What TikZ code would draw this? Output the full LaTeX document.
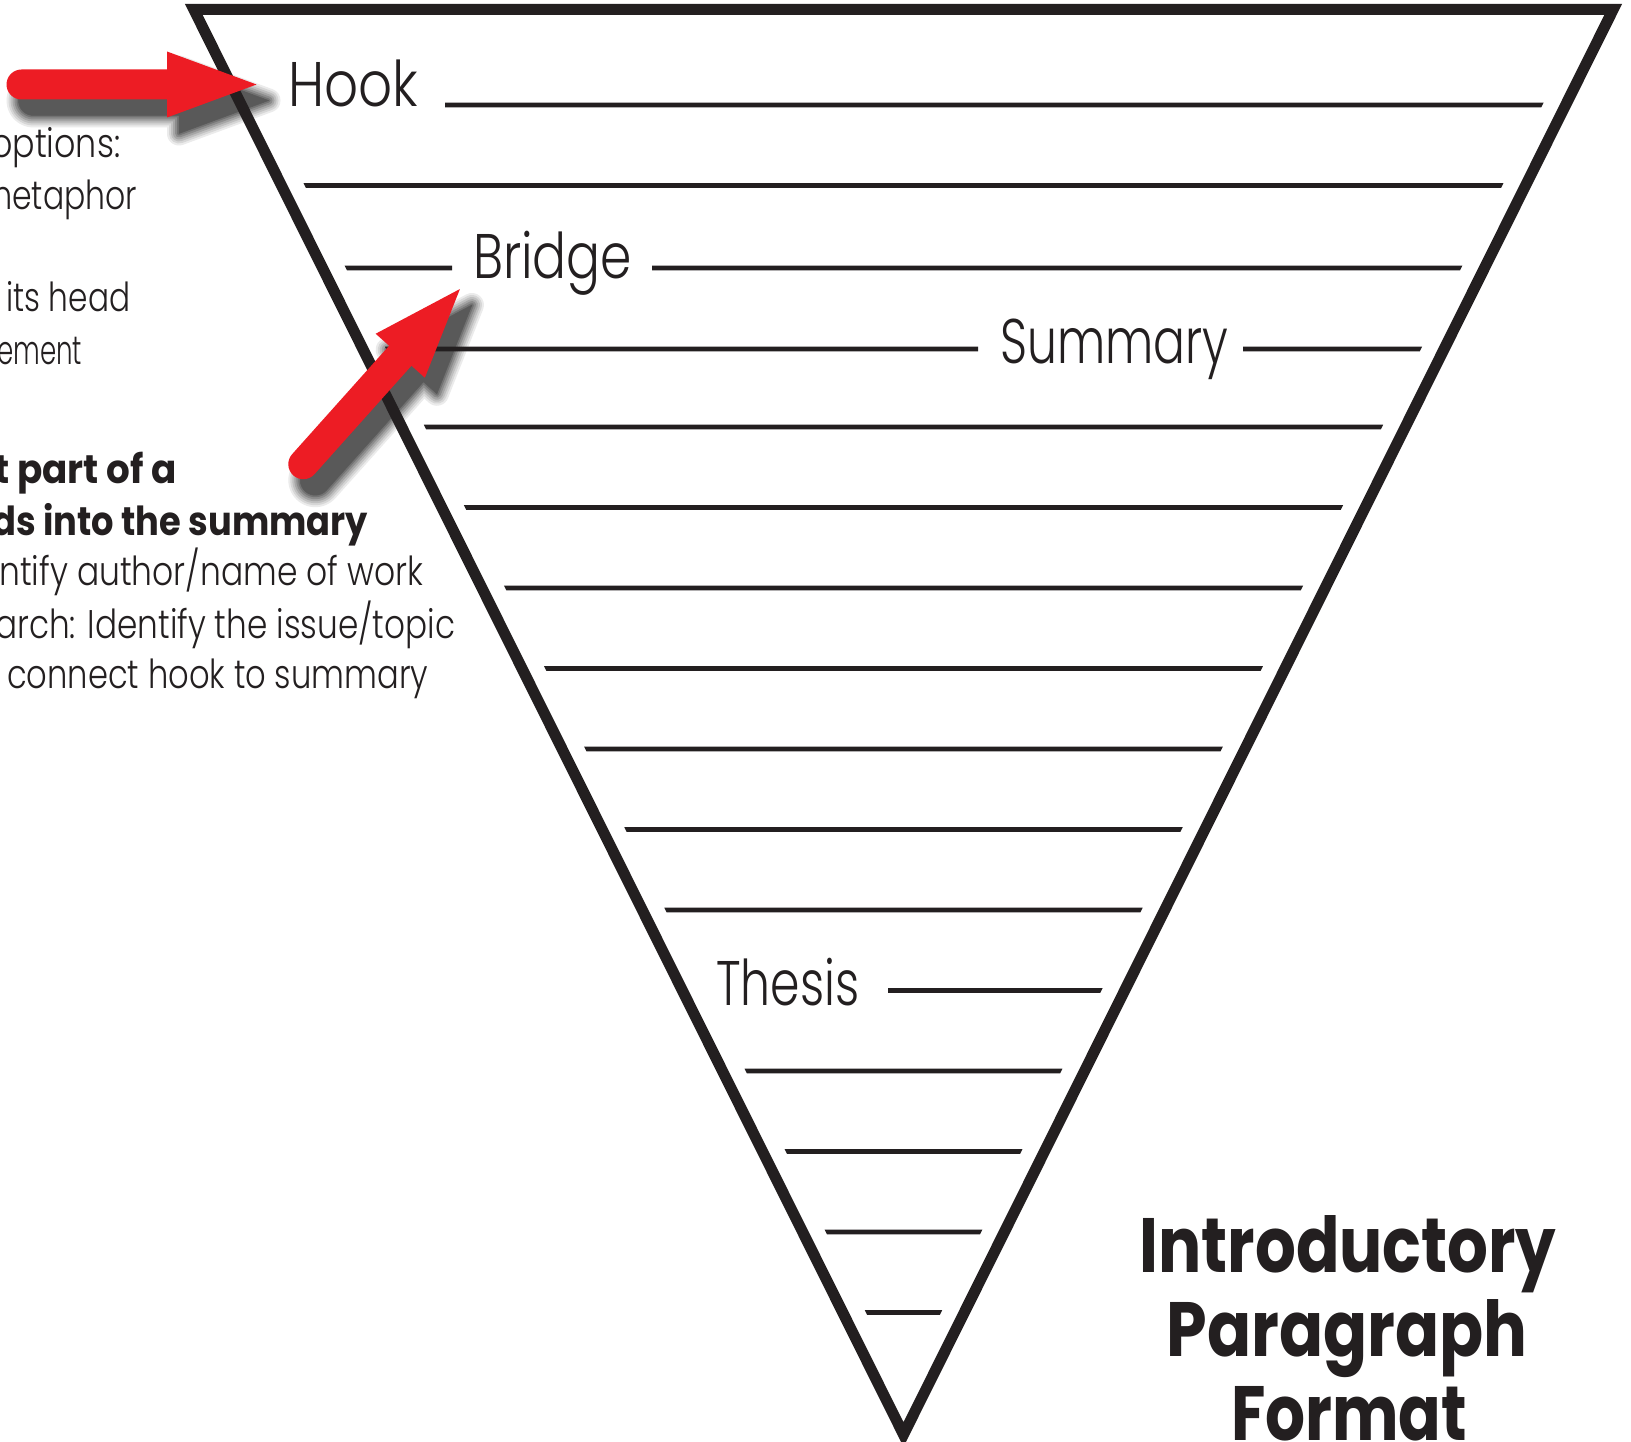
\documentclass[tikz,border=0pt]{standalone}
\usepackage{fontspec}
\setmainfont{Poppins}[UprightFont=* Light, BoldFont=* Bold]
\usepackage{graphicx}
\usetikzlibrary{calc}
\definecolor{ink}{HTML}{231F20}
\definecolor{arrowred}{HTML}{ED1C24}
\newsavebox\fitbox
\newlength\fitlen
\newcommand\fitw[2]{\sbox\fitbox{#2}\setlength\fitlen{\wd\fitbox}\pgfmathsetmacro\fitfac{#1/\fitlen}\scalebox{\fitfac}[1]{\usebox\fitbox}}
\newcommand\segLR[1]{\fill[ink] ({xl(#1-2.3)},{#1-2.3}) -- ({xr(#1-2.3)},{#1-2.3}) -- ({xr(#1+2.3)},{#1+2.3}) -- ({xl(#1+2.3)},{#1+2.3}) -- cycle;}
\newcommand\segR[2]{\fill[ink] (#2,{#1-2.3}) -- ({xr(#1-2.3)},{#1-2.3}) -- ({xr(#1+2.3)},{#1+2.3}) -- (#2,{#1+2.3}) -- cycle;}
\newcommand\segL[2]{\fill[ink] ({xl(#1-2.3)},{#1-2.3}) -- (#2,{#1-2.3}) -- (#2,{#1+2.3}) -- ({xl(#1+2.3)},{#1+2.3}) -- cycle;}
\tikzset{
  arrowbody/.pic={\path[pic actions] (145.5,-15) -- (145.5,-33) -- (235,0) -- (145.5,33) -- (145.5,15) -- (0,15) arc[start angle=90,end angle=270,radius=15] -- cycle;},
  lbl/.style={inner sep=0, anchor=base west, text=ink, font=\fontsize{63}{63}\selectfont},
  side/.style={inner sep=0, anchor=base west, text=ink, font=\fontsize{40}{40}\selectfont},
  sideb/.style={inner sep=0, anchor=base west, text=ink, font=\fontsize{40}{40}\selectfont\bfseries},
  titletext/.style={inner sep=0, anchor=base, text=ink, font=\fontsize{77}{77}\selectfont\bfseries},
}
\begin{document}
\begin{tikzpicture}[x=1pt, y=-1pt,
  declare function={xl(\t)=214.3+0.498*(\t-4); xr(\t)=1592.7-0.498*(\t-4);}]
\useasboundingbox (0,0) rectangle (1631,1442);
\fill[white] (0,0) rectangle (1631,1442);

% shadows of the arrows
\foreach \w/\c in {24/8,20/16,16/25,12/35,8/45,4/55,0.5/65} {
  \pic[fill=black!\c, draw=black!\c, line width=\w, line join=round] at (33.5,100.5) {arrowbody};
  \pic[fill=black!\c, draw=black!\c, line width=\w, line join=round, rotate=48.2] at (315.3,480.2) {arrowbody};
}

% funnel
\draw[ink, line width=11, line join=miter] (193.8,9.5) -- (1613.2,9.5) -- (903.5,1434.5) -- cycle;

% writing lines
\foreach \i in {2,5,6,7,8,9,10,11,13,14,15,16} {
  \pgfmathsetmacro\yy{105+(\i-1)*80.5}
  \segLR{\yy}
}
\segR{105}{445}
\segL{268}{452}
\segR{268}{652}
\segL{349}{978}
\segR{349}{1243}
\segR{990.5}{888}

% labels inside the funnel
\node[lbl] (hook) at (288,107) {\fitw{130}{Hook}};
\node[lbl] (bridge) at (473,279) {\fitw{159}{Bridge}};
\node[lbl] (summary) at (1000,363) {\fitw{228}{Summary}};
\node[lbl] (thesis) at (716,1005) {\fitw{143}{Thesis}};

% side notes (cut by the left edge)
\node[side] (n1) at (-9,158) {\fitw{129}{options:}};
\node[side] (n2) at (-20,210) {\fitw{157}{metaphor}};
\node[side] (n3) at (6,312) {\fitw{124}{its head}};
\node[side] (n4) at (-3,364) {\fitw{85}{ement}};
\node[sideb] (n5) at (-6,483) {\fitw{183}{t part of a}};
\node[sideb] (n6) at (-8,535) {\fitw{376}{ds into the summary}};
\node[side] (n7) at (-1,585) {\fitw{424}{ntify author/name of work}};
\node[side] (n8) at (-5,638) {\fitw{460}{arch: Identify the issue/topic}};
\node[side] (n9) at (7,688) {\fitw{421}{connect hook to summary}};

% title
\node[titletext] (t1) at (1348,1272) {\fitw{417}{Introductory}};
\node[titletext] (t2) at (1347,1356) {\fitw{361}{Paragraph}};
\node[titletext] (t3) at (1349,1440) {\fitw{236}{Format}};

% red arrows
\pic[fill=arrowred] at (21.5,84.5) {arrowbody};
\pic[fill=arrowred, rotate=48.2] at (303.3,464.2) {arrowbody};
\end{tikzpicture}
\end{document}
